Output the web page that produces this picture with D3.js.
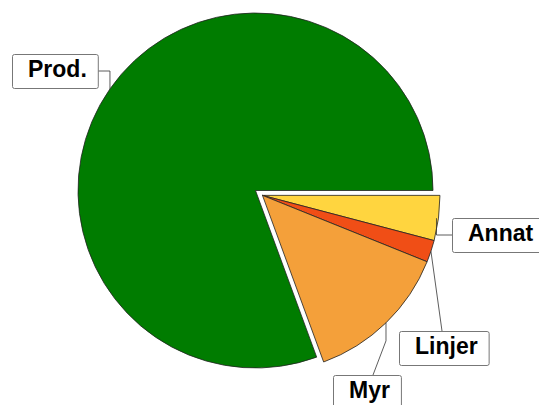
<!DOCTYPE html>
<html>
<head>
<meta charset="utf-8">
<script src="https://cdn.jsdelivr.net/npm/d3@7"></script>
<style>
  body { margin: 0; background: #fff; }
  svg { display: block; }
</style>
</head>
<body>
<svg id="chart" width="539" height="405"></svg>
<script>
// slice data (percent of total)
var categories = ["Annat", "Linjer", "Myr", "Prod."];
var values = [4.1, 2.0, 13.3, 80.6];
var exploded = [true, true, true, false];
var colors = ["#ffd53f", "#f04e16", "#f4a03a", "#007c00"];

var svg = d3.select("#chart");
var cx = 255.5, cy = 190.5, radius = 177.5;
var explodeDist = 8.5;

var data = categories.map(function(c, i) {
    return { name: c, value: values[i], exploded: exploded[i], color: colors[i] };
});

var pie = d3.pie()
    .sort(null)
    .value(function(d) { return d.value; })
    .startAngle(Math.PI / 2)
    .endAngle(Math.PI / 2 + 2 * Math.PI);

var arcs = pie(data);

// explode group shares one offset, along the middle of the exploded block
var exArcs = arcs.filter(function(a) { return a.data.exploded; });
var exMid = (exArcs[0].startAngle + exArcs[exArcs.length - 1].endAngle) / 2;
var exDx = Math.sin(exMid) * explodeDist, exDy = -Math.cos(exMid) * explodeDist;

var arc = d3.arc().innerRadius(0).outerRadius(radius);

function offsetOf(a) {
    return a.data.exploded ? [exDx, exDy] : [0, 0];
}

var g = svg.append("g").attr("transform", "translate(" + cx + "," + cy + ")");

g.selectAll("path.slice")
    .data(arcs)
    .enter().append("path")
    .attr("class", "slice")
    .attr("transform", function(d) { var o = offsetOf(d); return "translate(" + o[0] + "," + o[1] + ")"; })
    .attr("d", arc)
    .attr("fill", function(d) { return d.data.color; })
    .attr("stroke", "#222")
    .attr("stroke-width", 0.8)
    .attr("stroke-linejoin", "round");

// label boxes (layout only)
var boxPos = {
    "Prod.": [12, 54],
    "Annat": [452, 218],
    "Linjer": [399, 331],
    "Myr": [333, 375]
};
var boxH = 34;

function edgePoint(a) {
    var m = (a.startAngle + a.endAngle) / 2;
    var o = offsetOf(a);
    return [cx + o[0] + Math.sin(m) * radius, cy + o[1] - Math.cos(m) * radius];
}

var labels = svg.append("g");

arcs.forEach(function(a) {
    var name = a.data.name;
    var p = boxPos[name];
    var lg = labels.append("g");
    var rect = lg.append("rect");
    var txt = lg.append("text")
        .attr("x", p[0] + 16)
        .attr("y", p[1] + 23)
        .attr("font-family", "Liberation Sans, Arial, sans-serif")
        .attr("font-weight", "bold")
        .attr("font-size", 23)
        .attr("fill", "#000")
        .text(name);
    var w = txt.node().getComputedTextLength() + 27;
    rect.attr("x", p[0] + 0.5).attr("y", p[1] + 0.5)
        .attr("width", w).attr("height", boxH)
        .attr("rx", 2)
        .attr("fill", "#fff")
        .attr("stroke", "#777")
        .attr("stroke-width", 1);

    var e = edgePoint(a);
    var pts;
    if (name === "Prod.") {
        var ym = p[1] + boxH / 2;
        pts = [e, [e[0], ym], [p[0] + w, ym]];
    } else if (name === "Annat") {
        var ya = p[1] + boxH / 2;
        pts = [[e[0] - 2, e[1]], [e[0] - 2, ya], [p[0], ya]];
    } else if (name === "Linjer") {
        pts = [e, [p[0] + 43, p[1]]];
    } else {
        pts = [e, [e[0], e[1] + 18], [p[0] + 40, p[1]]];
    }
    svg.insert("path", "g:last-child")
        .attr("d", d3.line()(pts))
        .attr("fill", "none")
        .attr("stroke", "#333")
        .attr("stroke-width", 0.8);
});
</script>
</body>
</html>
